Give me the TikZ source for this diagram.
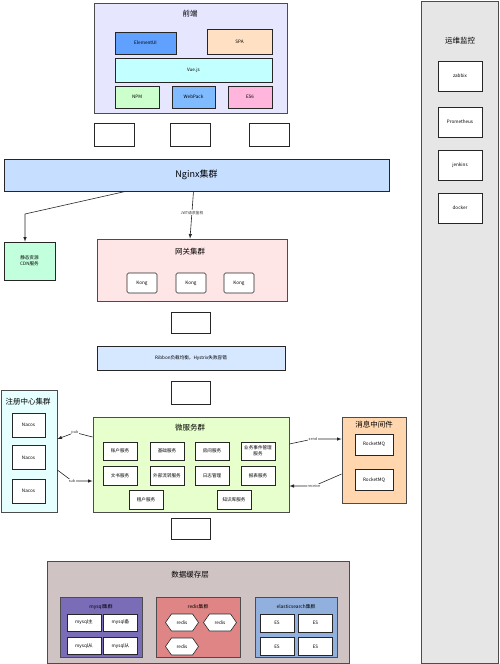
\documentclass[tikz,border=0pt]{standalone}
\usepackage{fontspec}
\setmainfont{Noto Sans CJK SC}
\usepackage{tikz}
\usetikzlibrary{shapes.symbols}

\begin{document}
\begin{tikzpicture}[x=1pt, y=-1pt, >=latex,
    box/.style={draw=black!85, line width=0.6pt, inner sep=0.5pt, align=center,
        font=\fontsize{4.6}{5.6}\selectfont},
    group/.style={draw=black!70, line width=0.8pt, inner sep=0pt},
    title/.style={font=\fontsize{7.5}{9}\selectfont},
    small/.style={font=\fontsize{4.8}{6}\selectfont},
    link/.style={->, line width=0.6pt, draw=black!85},
    tag/.style={font=\fontsize{3.8}{4.5}\selectfont, fill=white, inner sep=0.4pt, text=black!80}]
    % Colours of the boxes
    \definecolor{frontbg}{RGB}{230, 230, 255}
    \definecolor{elemblue}{RGB}{96, 160, 255}
    \definecolor{spapeach}{RGB}{255, 224, 194}
    \definecolor{vuecyan}{RGB}{194, 255, 255}
    \definecolor{npmgreen}{RGB}{204, 255, 204}
    \definecolor{packblue}{RGB}{128, 187, 255}
    \definecolor{espink}{RGB}{255, 181, 220}
    \definecolor{nginxblue}{RGB}{198, 222, 255}
    \definecolor{cdnmint}{RGB}{194, 255, 221}
    \definecolor{gatepink}{RGB}{255, 230, 230}
    \definecolor{ribbonblue}{RGB}{214, 232, 255}
    \definecolor{regcyan}{RGB}{230, 255, 255}
    \definecolor{microgreen}{RGB}{230, 255, 204}
    \definecolor{mqorange}{RGB}{255, 214, 173}
    \definecolor{datagray}{RGB}{207, 195, 195}
    \definecolor{mysqlpurple}{RGB}{123, 108, 184}
    \definecolor{redisred}{RGB}{224, 133, 133}
    \definecolor{esblue}{RGB}{146, 176, 221}
    \definecolor{opsgray}{RGB}{230, 230, 230}

    \useasboundingbox (0,0) rectangle (500,664);

    % 1. Front end
    \node[group, fill=frontbg, minimum width=193, minimum height=110] (front) at (190.5,58) {};
    \node[title] (fronttitle) at (190,14) {前端};
    \node[box, fill=elemblue, minimum width=61, minimum height=22] (elementui) at (145.5,43) {ElementUI};
    \node[box, fill=spapeach, minimum width=65, minimum height=25] (spa) at (239.5,41.5) {SPA};
    \node[box, fill=vuecyan, minimum width=157, minimum height=24] (vue) at (193.5,70) {Vue.js};
    \node[box, fill=npmgreen, minimum width=44, minimum height=22] (npm) at (137,97) {NPM};
    \node[box, fill=packblue, minimum width=43, minimum height=22] (webpack) at (193.5,97) {WebPack};
    \node[box, fill=espink, minimum width=44, minimum height=22] (es6) at (250,97) {ES6};

    \foreach \i/\x in {1/114, 2/190.5, 3/269}
        \node[box, minimum width=40, minimum height=23] (blank\i) at (\x,134.5) {};

    % 2. Nginx and CDN
    \node[box, fill=nginxblue, minimum width=385, minimum height=32, font=\fontsize{9}{11}\selectfont] (nginx) at (196.5,175) {Nginx集群};
    \node[box, fill=cdnmint, minimum width=51, minimum height=38] (cdn) at (29.5,261) {静态资源\\CDN服务};

    % 3. Gateway
    \node[group, fill=gatepink, minimum width=190, minimum height=62] (gateway) at (192,270) {};
    \node[title] (gatetitle) at (190,252) {网关集群};
    \foreach \i/\x in {1/142, 2/191, 3/239}
        \node[box, fill=white, rounded corners=1.5pt, minimum width=30, minimum height=20] (kong\i) at (\x,283) {Kong};

    \draw[link] (nginx.south -| 126,0) -- (25,214) -- (cdn.north -| 25,0);
    \draw[link] (nginx.south -| 193.5,0) -- node[tag, pos=0.45] {JWT请求鉴权} (gateway.north -| 190,0);

    % 4. Ribbon
    \node[box, minimum width=39, minimum height=21] (blank4) at (190.5,322.5) {};
    \node[box, fill=ribbonblue, minimum width=188, minimum height=24] (ribbon) at (191,358) {Ribbon负载均衡，Hystrix失败容错};
    \node[box, minimum width=39, minimum height=23] (blank5) at (190.5,392.5) {};

    % 5. Registry
    \node[group, fill=regcyan, minimum width=56, minimum height=122] (registry) at (29,451) {};
    \node[title] (regtitle) at (28,402) {注册中心集群};
    \foreach \i/\y in {1/425, 2/457.5, 3/491}
        \node[box, fill=white, minimum width=33, minimum height=24] (nacos\i) at (28.5,\y) {Nacos};

    % 6. Micro services
    \node[group, fill=microgreen, minimum width=196, minimum height=95] (micro) at (191,464.5) {};
    \node[title] (microtitle) at (190,428) {微服务群};
    \node[box, fill=white, minimum width=34, minimum height=18] (account) at (120,451) {账户服务};
    \node[box, fill=white, minimum width=34, minimum height=18] (basic) at (167,451) {基础服务};
    \node[box, fill=white, minimum width=34, minimum height=18] (room) at (212,451) {房间服务};
    \node[box, fill=white, minimum width=34, minimum height=18] (event) at (258,451) {业务事件管理\\服务};
    \node[box, fill=white, minimum width=34, minimum height=19] (docs) at (120,475.5) {文书服务};
    \node[box, fill=white, minimum width=34, minimum height=19] (transfer) at (167,475.5) {外部流转服务};
    \node[box, fill=white, minimum width=34, minimum height=19] (logs) at (212,475.5) {日志管理};
    \node[box, fill=white, minimum width=34, minimum height=19] (report) at (258,475.5) {报表服务};
    \node[box, fill=white, minimum width=34, minimum height=19] (tenant) at (146,499.5) {租户服务};
    \node[box, fill=white, minimum width=34, minimum height=19] (knowledge) at (234,499.5) {知识库服务};
    \node[box, minimum width=39, minimum height=21] (blank6) at (190.5,528.5) {};

    % 7. Message queue
    \node[group, fill=mqorange, minimum width=64, minimum height=86] (mq) at (374,460) {};
    \node[title] (mqtitle) at (374,425) {消息中间件};
    \node[box, fill=white, minimum width=38, minimum height=21] (rocket1) at (374,444.5) {RocketMQ};
    \node[box, fill=white, minimum width=38, minimum height=21] (rocket2) at (374,480) {RocketMQ};

    \draw[link] (micro.west |- 0,437) -- (75,432.5) node[tag] {pub} -- (registry.east |- 0,439);
    \draw[link] (registry.east |- 0,470) -- (72,481) node[tag] {sub} -- (micro.west |- 0,481);
    \draw[link] (micro.east |- 0,444) -- (313,439) node[tag] {send} -- (mq.west |- 0,439);
    \draw[link] (mq.west |- 0,474) -- (314,486) node[tag] {receive} -- (micro.east |- 0,486);

    % 8. Data and cache layer
    \node[group, fill=datagray, minimum width=302, minimum height=102] (data) at (198,612) {};
    \node[title] (datatitle) at (190,575) {数据缓存层};

    \node[group, fill=mysqlpurple, minimum width=82, minimum height=60] (mysql) at (101,627) {};
    \node[small] (mysqltitle) at (101,607) {mysql集群};
    \node[box, fill=white, minimum width=34, minimum height=17] (mysqlmain) at (84,622.5) {mysql主};
    \node[box, fill=white, minimum width=34, minimum height=17] (mysqlbak) at (120.5,622.5) {mysql备};
    \node[box, fill=white, minimum width=34, minimum height=17] (mysqlslave1) at (84,646) {mysql从};
    \node[box, fill=white, minimum width=34, minimum height=17] (mysqlslave2) at (120.5,646) {mysql从};

    \node[group, fill=redisred, minimum width=84, minimum height=60] (redis) at (198,627) {};
    \node[small] (redistitle) at (198,607) {redis集群};
    \foreach \i/\x/\y in {1/182/622.5, 2/220/622.5, 3/182/646.5}
        \node[box, fill=white, shape=signal, signal to=west and east, signal pointer angle=110,
            minimum width=33, minimum height=17] (redis\i) at (\x,\y) {redis};

    \node[group, fill=esblue, minimum width=82, minimum height=60] (es) at (296,627) {};
    \node[small] (estitle) at (296,607) {elasticsearch集群};
    \foreach \i/\x/\y in {1/277/623, 2/315.5/623, 3/277/646.5, 4/315.5/646.5}
        \node[box, fill=white, minimum width=34, minimum height=18] (es\i) at (\x,\y) {ES};

    % 9. Operations and monitoring
    \node[group, fill=opsgray, minimum width=77, minimum height=662] (ops) at (459.5,332) {};
    \node[title] (opstitle) at (460,41) {运维监控};
    \foreach \i/\y/\t in {1/76/zabbix, 2/122/Prometheus, 3/165/jenkins, 4/208/docker}
        \node[box, fill=white, minimum width=44, minimum height=30] (tool\i) at (460,\y) {\t};
\end{tikzpicture}
\end{document}
